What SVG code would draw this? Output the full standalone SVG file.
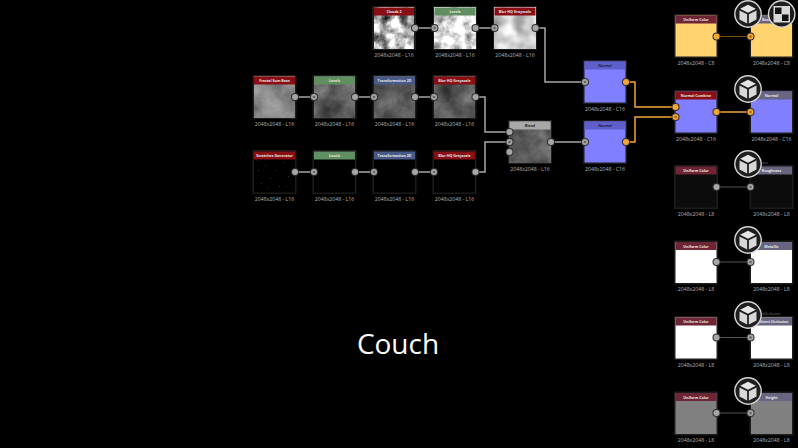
<svg xmlns="http://www.w3.org/2000/svg" xmlns:xlink="http://www.w3.org/1999/xlink" width="798" height="448" viewBox="0 0 798 448">
<style>
text{font-family:"Open Sans","Noto Sans","Liberation Sans",sans-serif}
.f{fill:#1c1c1c}
.t{font-size:3.6px;font-weight:700;fill:#e8e8e8;text-anchor:middle}
.l{font-size:5.2px;fill:#b4b4b4;text-anchor:middle}
.o{font-size:3.6px;fill:#777}
.e{fill:none;stroke:#a6a6a6;stroke-width:1.5}
.a{fill:none;stroke:#f5a733;stroke-width:1.5}
.r{fill:#8a0f14}.g{fill:#608f62}.b{fill:#4a5a88}.y{fill:#a8a8a8}.n{fill:#5f5fcb}.u{fill:#6e2535}.m{fill:#676580}
.ring{fill:#1e1e1e;stroke:#d6d6d6;stroke-width:1.4}
</style>
<defs>
<filter id="c2" x="0" y="0" width="1" height="1" color-interpolation-filters="sRGB"><feTurbulence type="fractalNoise" baseFrequency=".09" numOctaves="4" seed="4"/><feColorMatrix values="1.7 0 0 0 -.1 1.7 0 0 0 -.1 1.7 0 0 0 -.1 0 0 0 0 1"/></filter>
<filter id="lv" x="0" y="0" width="1" height="1" color-interpolation-filters="sRGB"><feTurbulence type="fractalNoise" baseFrequency=".09" numOctaves="4" seed="4"/><feColorMatrix values="1.3 0 0 0 .2 1.3 0 0 0 .2 1.3 0 0 0 .2 0 0 0 0 1"/></filter>
<filter id="bl" x="0" y="0" width="1" height="1" color-interpolation-filters="sRGB"><feTurbulence type="fractalNoise" baseFrequency=".07" numOctaves="2" seed="4"/><feColorMatrix values=".7 0 0 0 .48 .7 0 0 0 .48 .7 0 0 0 .48 0 0 0 0 1"/></filter>
<filter id="fr" x="0" y="0" width="1" height="1" color-interpolation-filters="sRGB"><feTurbulence type="fractalNoise" baseFrequency=".05" numOctaves="5" seed="9"/><feColorMatrix values=".4 0 0 0 .33 .4 0 0 0 .33 .4 0 0 0 .33 0 0 0 0 1"/></filter>
<filter id="dk" x="0" y="0" width="1" height="1" color-interpolation-filters="sRGB"><feTurbulence type="fractalNoise" baseFrequency=".05" numOctaves="5" seed="9"/><feColorMatrix values=".45 0 0 0 .14 .45 0 0 0 .14 .45 0 0 0 .14 0 0 0 0 1"/></filter>
<g id="frame"><rect class="f" width="44" height="44"/></g>
<g id="pi"><circle r="4" fill="#2e2e2e"/><circle r="3" fill="#a6a6a6"/><circle r="1.3" fill="#666"/></g>
<g id="po"><circle r="4" fill="#2e2e2e"/><circle r="3" fill="#a6a6a6"/></g>
<g id="ai"><circle r="4" fill="#2e2e2e"/><circle r="3" fill="#f5a733"/><circle r="1.3" fill="#9a6a1e"/></g>
<g id="ao"><circle r="4" fill="#2e2e2e"/><circle r="3" fill="#f5a733"/></g>
<g id="cube"><circle class="ring" r="13.200"/><g transform="scale(1.12)"><polygon points="0,-8.200 7,-4.600 0,-1.200 -7,-4.600" fill="#e6e6e6"/><polygon points="-7.600,-3.200 -.8,.2 -.8,8.400 -7.600,4.800" fill="#d8d8d8"/><polygon points="7.600,-3.200 .8,.2 .8,8.400 7.600,4.800" fill="#d8d8d8"/></g></g>
</defs>
<rect width="798" height="448" fill="#000"/>
<text x="398" y="354" font-size="28" fill="#fff" text-anchor="middle">Couch</text>

<g id="connectors">
<path class="e" d="M416 28H434"/>
<path class="e" d="M476 28H494"/>
<path class="e" d="M536 28H545V82H585"/>
<path class="e" d="M295 97H313"/>
<path class="e" d="M355 97H373"/>
<path class="e" d="M415 97H434"/>
<path class="e" d="M476 97H485V132H509"/>
<path class="e" d="M295 172H313"/>
<path class="e" d="M355 172H373"/>
<path class="e" d="M415 172H434"/>
<path class="e" d="M476 172H485V142H509"/>
<path class="e" d="M551 142H585"/>
<path class="a" d="M626 82H635V107H675"/>
<path class="a" d="M626 142H635V117H675"/>
<path class="a" d="M716 112H750"/>
<path fill="none" stroke="#7a5010" d="M716 36.500H750"/>
<path fill="none" stroke="#555" d="M716 187H750"/>
<path fill="none" stroke="#555" d="M716 262H750"/>
<path fill="none" stroke="#555" d="M716 337.500H750"/>
<path fill="none" stroke="#555" d="M716 413H750"/>
</g>

<g id="clouds"><use href="#frame" x="372" y="6"/><rect x="374" y="7.500" width="40" height="41" filter="url(#c2)"/><rect class="r" x="374" y="7.500" width="40" height="8"/><text class="t" x="394" y="13">Clouds 2</text><text class="l" x="394" y="56.500">2048x2048 - L16</text><use href="#po" x="415" y="28"/></g>
<g id="levels1"><use href="#frame" x="433" y="6"/><rect x="434.500" y="7.500" width="41" height="41" filter="url(#lv)"/><rect class="g" x="434.500" y="7.500" width="41" height="8"/><text class="t" x="455" y="13">Levels</text><text class="l" x="455" y="56.500">2048x2048 - L16</text><use href="#pi" x="434.500" y="28"/><use href="#po" x="475.500" y="28"/></g>
<g id="blur1"><use href="#frame" x="493" y="6"/><rect x="494.500" y="7.500" width="41" height="41" filter="url(#bl)"/><rect class="r" x="494.500" y="7.500" width="41" height="8"/><text class="t" x="515" y="13">Blur HQ Grayscale</text><text class="l" x="515" y="56.500">2048x2048 - L16</text><use href="#pi" x="494.500" y="28"/><use href="#po" x="535.500" y="28"/></g>

<g id="fractal"><use href="#frame" x="252.500" y="75"/><rect x="254" y="76.500" width="41" height="41" filter="url(#fr)"/><rect class="r" x="254" y="76.500" width="41" height="8"/><text class="t" x="274.500" y="82">Fractal Sum Base</text><text class="l" x="274.500" y="125.500">2048x2048 - L16</text><use href="#po" x="295" y="97"/></g>
<g id="levels2"><use href="#frame" x="312.500" y="75"/><rect x="314" y="76.500" width="41" height="41" filter="url(#dk)"/><rect class="g" x="314" y="76.500" width="41" height="8"/><text class="t" x="334.500" y="82">Levels</text><text class="l" x="334.500" y="125.500">2048x2048 - L16</text><use href="#pi" x="314" y="97"/><use href="#po" x="355" y="97"/></g>
<g id="transform1"><use href="#frame" x="372.500" y="75"/><rect x="374" y="76.500" width="41" height="41" filter="url(#dk)"/><rect class="b" x="374" y="76.500" width="41" height="8"/><text class="t" x="394.500" y="82">Transformation 2D</text><text class="l" x="394.500" y="125.500">2048x2048 - L16</text><use href="#pi" x="374" y="97"/><use href="#po" x="415" y="97"/></g>
<g id="blur2"><use href="#frame" x="432.500" y="75"/><rect x="434" y="76.500" width="41" height="41" filter="url(#dk)"/><rect class="r" x="434" y="76.500" width="41" height="8"/><text class="t" x="454.500" y="82">Blur HQ Grayscale</text><text class="l" x="454.500" y="125.500">2048x2048 - L16</text><use href="#pi" x="434" y="97"/><use href="#po" x="475.500" y="97"/></g>

<g id="scratches"><use href="#frame" x="252.500" y="150"/><rect x="254" y="151.500" width="41" height="41" fill="#000"/><path d="M258 170h1v.5h-1zM265 165h1v.5h-1zM270 178h.8v.8h-.8zM283 162h1v.5h-1zM276 170h.8v.5h-.8zM261 183h1v.6h-1zM288 176h.8v.8h-.8zM279 186h1v.5h-1zM267 188h.7v.5h-.7zM257 160h.8v.5h-.8zM286 186h.8v.5h-.8z" fill="#555"/><rect class="r" x="254" y="151.500" width="41" height="8"/><text class="t" x="274.500" y="157">Scratches Generator</text><text class="l" x="274.500" y="200.500">2048x2048 - L16</text><use href="#po" x="295" y="172"/></g>
<g id="levels3"><use href="#frame" x="312.500" y="150"/><rect x="314" y="151.500" width="41" height="41" fill="#000"/><rect class="g" x="314" y="151.500" width="41" height="8"/><text class="t" x="334.500" y="157">Levels</text><text class="l" x="334.500" y="200.500">2048x2048 - L16</text><use href="#pi" x="314" y="172"/><use href="#po" x="355" y="172"/></g>
<g id="transform2"><use href="#frame" x="372.500" y="150"/><rect x="374" y="151.500" width="41" height="41" fill="#000"/><rect class="b" x="374" y="151.500" width="41" height="8"/><text class="t" x="394.500" y="157">Transformation 2D</text><text class="l" x="394.500" y="200.500">2048x2048 - L16</text><use href="#pi" x="374" y="172"/><use href="#po" x="415" y="172"/></g>
<g id="blur3"><use href="#frame" x="432.500" y="150"/><rect x="434" y="151.500" width="41" height="41" fill="#000"/><rect class="r" x="434" y="151.500" width="41" height="8"/><text class="t" x="454.500" y="157">Blur HQ Grayscale</text><text class="l" x="454.500" y="200.500">2048x2048 - L16</text><use href="#pi" x="434" y="172"/><use href="#po" x="475.500" y="172"/></g>

<g id="blend"><use href="#frame" x="508" y="120"/><rect x="509.500" y="121.500" width="41" height="41" filter="url(#dk)"/><rect class="y" x="509.500" y="121.500" width="41" height="8"/><text class="t" style="fill:#222" x="530" y="127">Blend</text><text class="l" x="530" y="170.500">2048x2048 - L16</text><use href="#po" x="509.500" y="132"/><use href="#pi" x="509.500" y="142"/><use href="#po" x="509.500" y="152"/><use href="#po" x="551" y="142"/></g>

<g id="normal1"><use href="#frame" x="583" y="60"/><rect x="584.500" y="61.500" width="41" height="41" fill="#7f7fff"/><rect class="n" x="584.500" y="61.500" width="41" height="8"/><text class="t" style="fill:#1c1c40" x="605" y="67">Normal</text><text class="l" x="605" y="110.500">2048x2048 - C16</text><use href="#pi" x="585" y="82"/><use href="#ao" x="626" y="82"/></g>
<g id="normal2"><use href="#frame" x="583" y="120"/><rect x="584.500" y="121.500" width="41" height="41" fill="#7f7fff"/><rect class="n" x="584.500" y="121.500" width="41" height="8"/><text class="t" style="fill:#1c1c40" x="605" y="127">Normal</text><text class="l" x="605" y="170.500">2048x2048 - C16</text><use href="#pi" x="585" y="142"/><use href="#ao" x="626" y="142"/></g>

<g id="uniform1"><use href="#frame" x="674" y="14"/><rect x="675.500" y="15.500" width="41" height="41" fill="#ffd36e"/><rect class="u" x="675.500" y="15.500" width="41" height="8"/><text class="t" x="696" y="21">Uniform Color</text><text class="l" x="696" y="64.500">2048x2048 - C8</text><use href="#ao" x="716.500" y="36.500"/></g>
<g id="basecolor"><use href="#frame" x="749.500" y="14"/><rect x="751" y="15.500" width="41" height="41" fill="#ffd36e"/><rect class="m" x="751" y="15.500" width="41" height="8"/><text class="t" x="771.500" y="21">Base Color</text><text class="l" x="771.500" y="64.500">2048x2048 - C8</text><use href="#ai" x="750.500" y="36.500"/></g>
<g id="badge1"><use href="#cube" x="748" y="14"/></g>
<g id="badge2"><circle class="ring" cx="781.700" cy="14" r="13.200"/><rect x="773.500" y="6" width="16.500" height="16.500" fill="#d8d8d8"/><rect x="775" y="7.500" width="6.500" height="6.500" fill="#111"/><rect x="782" y="14.500" width="6.500" height="6.500" fill="#111"/></g>

<g id="combine"><use href="#frame" x="674" y="90"/><rect x="675.500" y="91.500" width="41" height="41" fill="#7f7fff"/><rect class="r" x="675.500" y="91.500" width="41" height="8"/><text class="t" x="696" y="97">Normal Combine</text><text class="l" x="696" y="140.500">2048x2048 - C16</text><use href="#ao" x="675.500" y="107"/><use href="#ai" x="675.500" y="117"/><use href="#ao" x="716.500" y="112"/></g>
<g id="normal-out"><text class="o" x="750" y="88.500">normal</text><use href="#frame" x="749.500" y="90"/><rect x="751" y="91.500" width="41" height="41" fill="#7f7fff"/><rect class="m" x="751" y="91.500" width="41" height="8"/><text class="t" x="771.500" y="97">Normal</text><text class="l" x="771.500" y="140.500">2048x2048 - C16</text><use href="#ai" x="750.500" y="112"/></g>
<g id="badge3"><use href="#cube" x="748" y="89"/></g>

<g id="uniform2"><use href="#frame" x="674" y="165"/><rect x="675.500" y="166.500" width="41" height="41" fill="#0c0c0c"/><rect class="u" x="675.500" y="166.500" width="41" height="8"/><text class="t" x="696" y="172">Uniform Color</text><text class="l" x="696" y="215.500">2048x2048 - L8</text><use href="#po" x="716.500" y="187"/></g>
<g id="roughness"><text class="o" x="750" y="164">roughness</text><use href="#frame" x="749.500" y="165"/><rect x="751" y="166.500" width="41" height="41" fill="#0c0c0c"/><rect class="m" x="751" y="166.500" width="41" height="8"/><text class="t" x="771.500" y="172">Roughness</text><text class="l" x="771.500" y="215.500">2048x2048 - L8</text><use href="#pi" x="750.500" y="187"/></g>
<g id="badge4"><use href="#cube" x="748" y="164"/></g>

<g id="uniform3"><use href="#frame" x="674" y="240.500"/><rect x="675.500" y="242" width="41" height="41" fill="#fff"/><rect class="u" x="675.500" y="242" width="41" height="8"/><text class="t" x="696" y="247.500">Uniform Color</text><text class="l" x="696" y="291">2048x2048 - L8</text><use href="#po" x="716.500" y="262"/></g>
<g id="metallic"><text class="o" x="750" y="239.500">metallic</text><use href="#frame" x="749.500" y="240.500"/><rect x="751" y="242" width="41" height="41" fill="#fff"/><rect class="m" x="751" y="242" width="41" height="8"/><text class="t" x="771.500" y="247.500">Metallic</text><text class="l" x="771.500" y="291">2048x2048 - L8</text><use href="#pi" x="750.500" y="262"/></g>
<g id="badge5"><use href="#cube" x="748" y="240"/></g>

<g id="uniform4"><use href="#frame" x="674" y="316"/><rect x="675.500" y="317.500" width="41" height="41" fill="#fff"/><rect class="u" x="675.500" y="317.500" width="41" height="8"/><text class="t" x="696" y="323">Uniform Color</text><text class="l" x="696" y="366.500">2048x2048 - L8</text><use href="#po" x="716.500" y="337.500"/></g>
<g id="ambient"><text class="o" x="750" y="315">ambientOcclusion</text><use href="#frame" x="749.500" y="316"/><rect x="751" y="317.500" width="41" height="41" fill="#fff"/><rect class="m" x="751" y="317.500" width="41" height="8"/><text class="t" x="771.500" y="323">Ambient Occlusion</text><text class="l" x="771.500" y="366.500">2048x2048 - L8</text><use href="#pi" x="750.500" y="337.500"/></g>
<g id="badge6"><use href="#cube" x="748" y="315"/></g>

<g id="uniform5"><use href="#frame" x="674" y="391.500"/><rect x="675.500" y="393" width="41" height="41" fill="#808080"/><rect class="u" x="675.500" y="393" width="41" height="8"/><text class="t" x="696" y="398.500">Uniform Color</text><text class="l" x="696" y="442">2048x2048 - L8</text><use href="#po" x="716.500" y="413"/></g>
<g id="height"><text class="o" x="750" y="390.500">height</text><use href="#frame" x="749.500" y="391.500"/><rect x="751" y="393" width="41" height="41" fill="#808080"/><rect class="m" x="751" y="393" width="41" height="8"/><text class="t" x="771.500" y="398.500">Height</text><text class="l" x="771.500" y="442">2048x2048 - L8</text><use href="#pi" x="750.500" y="413"/></g>
<g id="badge7"><use href="#cube" x="748" y="391"/></g>
</svg>
